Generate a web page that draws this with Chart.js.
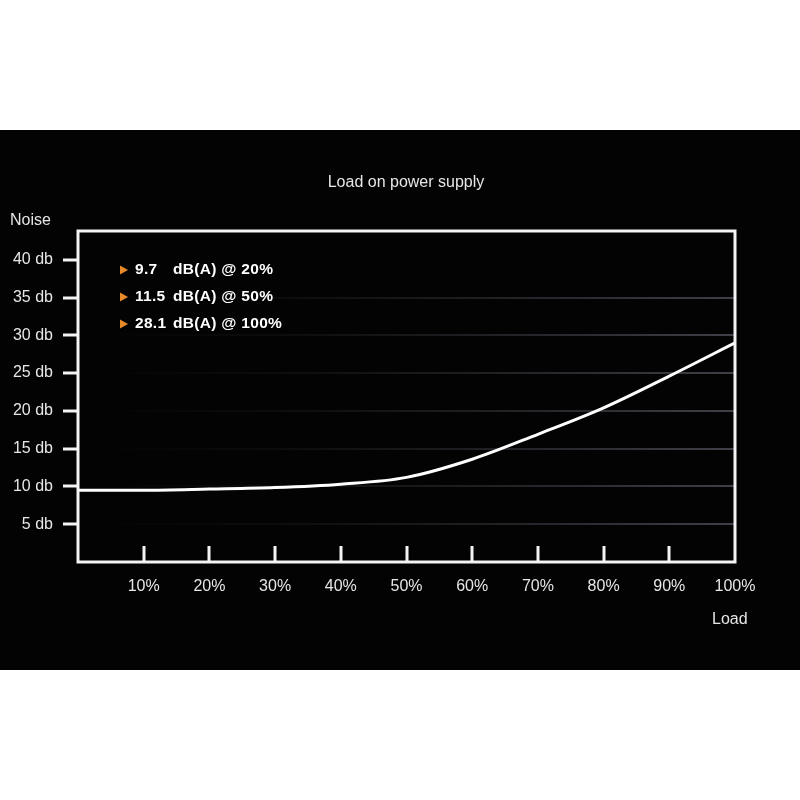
<!DOCTYPE html>
<html>
<head>
<meta charset="utf-8">
<script src="https://cdn.jsdelivr.net/npm/chart.js@4"></script>
<style>
  html,body{margin:0;padding:0;background:#fff;}
  #band{position:absolute;left:0;top:130px;width:800px;height:540px;background:#030303;}
</style>
</head>
<body>
<div id="band"><canvas id="noise" width="800" height="540"></canvas></div>
<script>
// data
const loads = [0, 10, 20, 30, 40, 50, 60, 70, 80, 90, 100];
const noiseDb = [9.5, 9.5, 9.65, 9.85, 10.3, 11.2, 13.6, 16.9, 20.4, 24.6, 29.0];
const xTicks = [10, 20, 30, 40, 50, 60, 70, 80, 90, 100];
const yTicks = [5, 10, 15, 20, 25, 30, 35, 40];
const noteValues = ["9.7", "11.5", "28.1"];
const noteLoads = ["20%", "50%", "100%"];

const FONT = "'Liberation Sans', Arial, sans-serif";

// fading grid lines, stronger towards the right
function gridColor(c){
  if(c.tick && c.tick.value === 40) return "rgba(0,0,0,0)";
  const a = c.chart.chartArea;
  if(!a) return "rgba(80,80,90,0.5)";
  const g = c.chart.ctx.createLinearGradient(a.left, 0, a.right, 0);
  g.addColorStop(0, "rgba(80,80,92,0)");
  g.addColorStop(0.35, "rgba(80,80,92,0.15)");
  g.addColorStop(0.7, "rgba(80,80,92,0.45)");
  g.addColorStop(1, "rgba(85,85,95,0.75)");
  return g;
}

// box, inward x ticks and the free texts
const decor = {
  id: "decor",
  afterDraw(chart){
    const ctx = chart.ctx, a = chart.chartArea, xs = chart.scales.x;
    ctx.save();
    ctx.strokeStyle = "#f4f4f4";
    ctx.lineWidth = 3;
    xTicks.forEach(v=>{
      if(v === 100) return;
      const px = Math.round(xs.getPixelForValue(v));
      ctx.beginPath(); ctx.moveTo(px, a.bottom); ctx.lineTo(px, a.bottom - 16); ctx.stroke();
    });
    ctx.strokeRect(a.left, a.top, a.right - a.left, a.bottom - a.top);

    ctx.fillStyle = "#e6e6e6";
    ctx.font = "16px " + FONT;
    ctx.textBaseline = "middle";
    ctx.textAlign = "center";
    ctx.fillText("Load on power supply", 406, 53);
    ctx.textAlign = "left";
    ctx.fillText("Noise", 10, 91);
    ctx.fillText("Load", 712, 490);

    ctx.font = "bold 15.5px " + FONT;
    try { ctx.letterSpacing = "0.3px"; } catch(e) {}
    noteValues.forEach((v,i)=>{
      const y = a.top + 39 + i*27;
      ctx.fillStyle = "#e8892a";
      ctx.beginPath(); ctx.moveTo(120, y-4.5); ctx.lineTo(128, y); ctx.lineTo(120, y+4.5); ctx.closePath(); ctx.fill();
      ctx.fillStyle = "#ffffff";
      ctx.fillText(v, 135, y);
      ctx.fillText("dB(A) @ " + noteLoads[i], 173, y);
    });
    ctx.restore();
  }
};

new Chart(document.getElementById("noise"), {
  type: "line",
  data: {
    labels: loads,
    datasets: [{
      data: loads.map((x,i)=>({x, y: noiseDb[i]})),
      borderColor: "#ffffff",
      borderWidth: 3,
      pointRadius: 0,
      cubicInterpolationMode: "monotone",
      fill: false
    }]
  },
  options: {
    responsive: false,
    animation: false,
    layout: { padding: { top: 101, right: 65, left: 0, bottom: 0 } },
    plugins: { legend: { display: false }, tooltip: { enabled: false } },
    scales: {
      x: {
        type: "linear", min: 0, max: 100,
        afterBuildTicks: s => { s.ticks = xTicks.map(v=>({value: v})); },
        afterFit: s => { s.height = 108; },
        grid: { display: false, drawTicks: false },
        border: { display: false },
        ticks: { color: "#e6e6e6", font: { size: 16, family: FONT }, padding: 15, maxRotation: 0,
                 callback: v => v + "%" }
      },
      y: {
        type: "linear", min: 0, max: 43.8,
        afterBuildTicks: s => { s.ticks = yTicks.map(v=>({value: v})); },
        afterFit: s => { s.width = 78; },
        grid: { color: gridColor, lineWidth: 2, tickColor: "#f4f4f4", tickWidth: 3, tickLength: 15 },
        border: { display: false },
        ticks: { color: "#e6e6e6", font: { size: 16, family: FONT }, padding: 10,
                 callback: v => v + " db" }
      }
    }
  },
  plugins: [decor]
});
</script>
</body>
</html>
